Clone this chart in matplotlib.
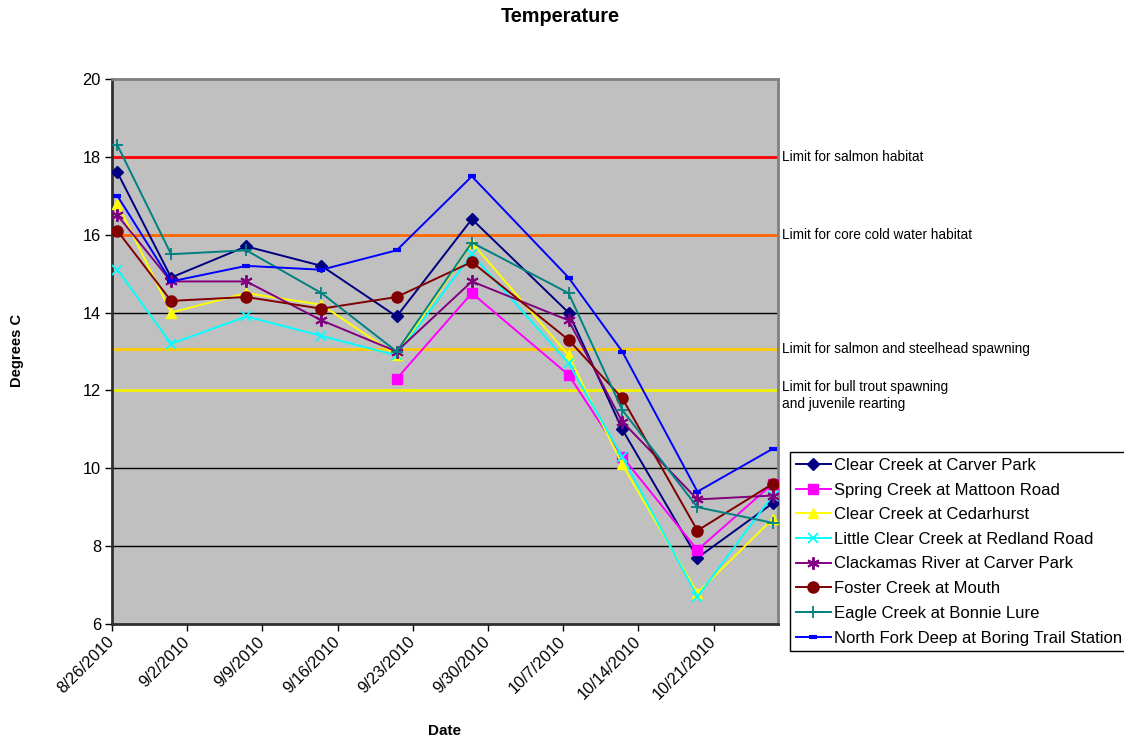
import numpy as np
import matplotlib
matplotlib.use("Agg")
import matplotlib.pyplot as plt
import matplotlib.dates as mdates
from datetime import datetime, timedelta

plt.rcParams['font.family'] = ['Liberation Sans', 'DejaVu Sans']

# ---- data ----
sample_dates = ["2010-08-26", "2010-08-31", "2010-09-07", "2010-09-14", "2010-09-21",
                "2010-09-28", "2010-10-07", "2010-10-12", "2010-10-19", "2010-10-26"]

clear_carver = [17.6, 14.9, 15.7, 15.2, 13.9, 16.4, 14.0, 11.0, 7.7, 9.1]
spring_mattoon = [np.nan, np.nan, np.nan, np.nan, 12.3, 14.5, 12.4, 10.3, 7.9, 9.6]
clear_cedarhurst = [16.8, 14.0, 14.5, 14.2, 12.9, 15.8, 12.9, 10.1, 6.8, 8.7]
little_clear = [15.1, 13.2, 13.9, 13.4, 12.9, 15.5, 12.7, 10.3, 6.7, 9.3]
clackamas = [16.5, 14.8, 14.8, 13.8, 13.0, 14.8, 13.8, 11.2, 9.2, 9.3]
foster = [16.1, 14.3, 14.4, 14.1, 14.4, 15.3, 13.3, 11.8, 8.4, 9.6]
eagle = [18.3, 15.5, 15.6, 14.5, 13.0, 15.8, 14.5, 11.5, 9.0, 8.6]
north_fork = [17.0, 14.8, 15.2, 15.1, 15.6, 17.5, 14.9, 13.0, 9.4, 10.5]

series_names = ["Clear Creek at Carver Park", "Spring Creek at Mattoon Road",
                "Clear Creek at Cedarhurst", "Little Clear Creek at Redland Road",
                "Clackamas River at Carver Park", "Foster Creek at Mouth",
                "Eagle Creek at Bonnie Lure", "North Fork Deep at Boring Trail Station"]

limit_values = [18.0, 16.0, 13.07, 12.0]
limit_labels = ["Limit for salmon habitat", "Limit for core cold water habitat",
                "Limit for salmon and steelhead spawning",
                "Limit for bull trout spawning\nand juvenile rearting"]

tick_dates = ["2010-08-26", "2010-09-02", "2010-09-09", "2010-09-16", "2010-09-23",
              "2010-09-30", "2010-10-07", "2010-10-14", "2010-10-21"]
tick_labels = ["8/26/2010", "9/2/2010", "9/9/2010", "9/16/2010", "9/23/2010",
               "9/30/2010", "10/7/2010", "10/14/2010", "10/21/2010"]

# ---- styles ----
colors = ["#000080", "#FF00FF", "#FFFF00", "#00FFFF", "#800080", "#800000", "#008080", "#0000FF"]
markers = ["D", "s", "^", "x", (6, 2, 0), "o", "+", "_"]
msizes = [6.5, 7, 7.5, 7.5, 9, 8, 9, 6]
mews = [1, 1, 1, 1.3, 1.4, 1, 1.3, 3]
limit_colors = ["#FF0000", "#FF6600", "#FFCC00", "#F0F000"]

x = [datetime.strptime(d, "%Y-%m-%d") + timedelta(hours=12) for d in sample_dates]
xt = [datetime.strptime(d, "%Y-%m-%d") for d in tick_dates]

fig = plt.figure(figsize=(11.24, 7.38), dpi=100)
ax = fig.add_axes([112/1124, 1-624/738, (778-112)/1124, (624-79)/738])
ax.set_facecolor("#C0C0C0")

ax.set_ylim(6, 20)
ax.set_yticks(np.arange(6, 21, 2))
ax.set_xlim(datetime(2010, 8, 26), datetime(2010, 10, 27))

for yv in [8, 10, 14]:
    ax.axhline(yv, color="black", lw=1, zorder=1)

for v, c in zip(limit_values, limit_colors):
    ax.axhline(v, color=c, lw=2, zorder=2)

all_series = [clear_carver, spring_mattoon, clear_cedarhurst, little_clear,
              clackamas, foster, eagle, north_fork]
for i, (ys, name) in enumerate(zip(all_series, series_names)):
    ax.plot(x, ys, color=colors[i], lw=1.4, marker=markers[i], ms=msizes[i],
            mew=mews[i], mfc=colors[i], mec=colors[i], label=name, zorder=3 + i)

for v, t in zip(limit_values, limit_labels):
    yv = v - 0.13 if "\n" in t else v
    ax.text(1.006, yv, t, transform=ax.get_yaxis_transform(), ha="left", va="center",
            fontsize=9.8, linespacing=1.35, clip_on=False)

ax.set_xticks(xt)
ax.set_xticklabels(tick_labels, rotation=45, ha="right", va="center",
                   rotation_mode="anchor")
ax.tick_params(axis="both", direction="out", length=5, width=1, labelsize=11.8, pad=3,
               color="black")
ax.tick_params(axis="x", pad=6)

for s in ["left", "bottom"]:
    ax.spines[s].set_color("#303030")
    ax.spines[s].set_linewidth(2)
for s in ["top", "right"]:
    ax.spines[s].set_color("#808080")
    ax.spines[s].set_linewidth(2)

fig.text(560/1124, 1-17/738, "Temperature", ha="center", va="center",
         fontsize=14.3, fontweight="bold")
fig.text(17/1124, 1-350/738, "Degrees C", ha="center", va="center", rotation=90,
         fontsize=10.5, fontweight="bold")
fig.text(445/1124, 1-731/738, "Date", ha="center", va="center",
         fontsize=11, fontweight="bold")

leg = ax.legend(loc="upper left", bbox_to_anchor=(790/1124, 1-452/738),
                bbox_transform=fig.transFigure, borderaxespad=0, fontsize=12,
                frameon=True, fancybox=False, edgecolor="black", facecolor="white",
                framealpha=1, labelspacing=0.58, handlelength=2.1, handletextpad=0.2,
                borderpad=0.35)
leg.get_frame().set_linewidth(1)

fig.savefig("out.png", dpi=100, facecolor="white")
